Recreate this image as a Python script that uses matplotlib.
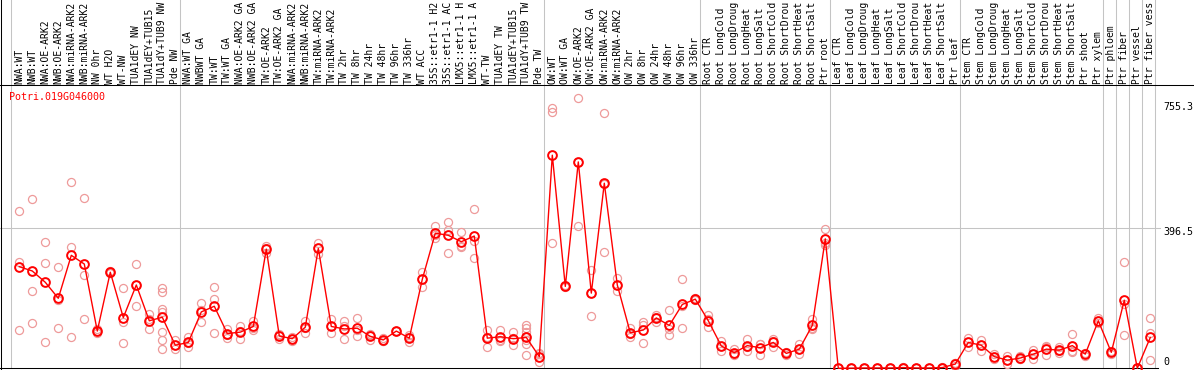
import matplotlib
matplotlib.use("Agg")
import matplotlib.pyplot as plt
import numpy as np

gene = "Potri.019G046000"

# category names as far as the reference shows them (header cuts at 14 chars)
categories = [
    "NWA:WT", "NWB:WT", "NWA:OE-ARK2", "NWB:OE-ARK2", "NWA:miRNA-ARK2", "NWB:miRNA-ARK2",
    "NW 0hr", "WT H2O", "WT-NW", "TUA1dEY NW", "TUA1dEY+TUB15", "TUA1dY+TUB9 NW", "Pde NW",
    "NWA:WT GA", "NWBWT GA", "TW:WT", "TW:WT GA", "NWA:OE-ARK2 GA", "NWB:OE-ARK2 GA",
    "TW:OE-ARK2", "TW:OE-ARK2 GA", "NWA:miRNA-ARK2", "NWB:miRNA-ARK2", "TW:miRNA-ARK2",
    "TW:miRNA-ARK2", "TW 2hr", "TW 8hr", "TW 24hr", "TW 48hr", "TW 96hr", "TW 336hr",
    "WT ACC", "35S::etr1-1 H2", "35S::etr1-1 AC", "LMX5::etr1-1 H", "LMX5::etr1-1 A",
    "WT-TW", "TUA1dEY TW", "TUA1dEY+TUB15", "TUA1dY+TUB9 TW", "Pde TW",
    "OW:WT", "OW:WT GA", "OW:OE-ARK2", "OW:OE-ARK2 GA", "OW:miRNA-ARK2", "OW:miRNA-ARK2",
    "OW 2hr", "OW 8hr", "OW 24hr", "OW 48hr", "OW 96hr", "OW 336hr",
    "Root CTR", "Root LongCold", "Root LongDroug", "Root LongHeat", "Root LongSalt",
    "Root ShortCold", "Root ShortDrou", "Root ShortHeat", "Root ShortSalt", "Ptr root",
    "Leaf CTR", "Leaf LongCold", "Leaf LongDroug", "Leaf LongHeat", "Leaf LongSalt",
    "Leaf ShortCold", "Leaf ShortDrou", "Leaf ShortHeat", "Leaf ShortSalt", "Ptr leaf",
    "Stem CTR", "Stem LongCold", "Stem LongDroug", "Stem LongHeat", "Stem LongSalt",
    "Stem ShortCold", "Stem ShortDrou", "Stem ShortHeat", "Stem ShortSalt", "Ptr shoot",
    "Ptr xylem", "Ptr phloem", "Ptr fiber", "Ptr vessel", "Ptr fiber vess",
]

means = [
    286.6, 274.4, 242.5, 197.4, 318.6, 294, 105, 271, 143, 235, 134, 144, 65,
    73, 159, 175, 98, 102, 118, 336, 91, 83.5, 116, 338, 118, 111, 113, 90, 80, 105, 85,
    251, 381, 375, 357, 373, 85, 89, 83.5, 87, 33,
    601, 231, 582, 212, 522, 235, 100, 108, 142, 121, 180, 195,
    134, 63, 44, 64, 58, 73, 42, 54, 121, 365,
    0, 0.5, 1, 1, 1, 2, 1, 1, 2, 12,
    73, 65, 33, 23, 29, 40, 54, 51, 64, 40,
    134, 45, 192, 0, 87,
]

replicates = [
    [445, 299, 108], [477, 218, 128], [355, 297, 74], [286, 192, 114], [524, 342, 88],
    [479, 262, 138], [110, 105, 100], [274, 270, 269], [226, 131, 71], [294, 235, 175],
    [153, 140, 110], [227, 214, 166, 159, 102, 79, 54], [80, 65, 54],
    [87, 72, 61], [184, 163, 130], [229, 195, 99], [112, 95, 86], [118, 104, 83],
    [133, 114, 108], [346, 339, 324], [97, 95, 82], [88, 84, 78], [133, 115, 99],
    [353, 339, 323], [138, 118, 99], [133, 118, 82], [141, 107, 91], [96, 95, 80],
    [85, 78, 77], [106, 105, 104], [94, 88, 73], [272, 251, 230], [401, 376, 367],
    [413, 390, 324], [384, 343, 344], [449, 360, 310], [108, 88, 60], [109, 81, 77],
    [101, 85, 65], [123, 115, 101, 87, 68, 37, 80], [42, 39, 17],
    [733, 722, 353], [234, 231, 229], [761, 583, 401], [277, 212, 148], [719, 520, 327],
    [254, 234, 217], [114, 98, 89], [131, 122, 71], [150, 144, 131], [164, 110, 93],
    [251, 177, 114], [197, 195, 193],
    [149, 138, 116], [78, 63, 48], [54, 41, 38], [83, 60, 49], [69, 68, 38],
    [82, 77, 61], [46, 43, 38], [69, 54, 40], [138, 115, 110], [392, 353, 349],
    [0, 0, 0], [1, 0, 0], [1, 1, 0], [2, 1, 0], [1, 1, 1], [3, 2, 1], [2, 1, 0],
    [1, 1, 1], [3, 2, 1], [16, 14, 6],
    [85, 74, 61], [80, 65, 50], [40, 32, 25], [35, 22, 11], [36, 26, 25],
    [53, 40, 25], [64, 59, 38], [60, 49, 43], [96, 50, 46], [42, 40, 36],
    [143, 133, 127], [49, 47, 39], [299, 181, 93], [0, 0, 0], [141, 99, 23],
]

ytick_values = [755.3, 396.5, 0]
ytick_labels = ["755.3", "396.5", "0"]
separators_after = [-1, 12, 40, 52, 62, 72, 83, 84, 85, 86, 87]

# ---- pixel layout helpers -------------------------------------------------
W, H = 1194, 370
X_FIRST, X_STEP = 19.3, 13.0          # pixel of first category, spacing
Y_ZERO, Y_GRID = 368.3, 227.7         # pixel of value 0 and of 396.5
VPP = 396.5 / (Y_ZERO - Y_GRID)       # value per pixel


def px_x(p):
    return (p - X_FIRST) / X_STEP


def px_y(p):
    return (Y_ZERO - p) * VPP


fig = plt.figure(figsize=(W / 100, H / 100), dpi=100)
ax = fig.add_axes([0, 0, 1, 1])
ax.set_xlim(px_x(0), px_x(W))
ax.set_ylim(px_y(H), px_y(0))
ax.axis("off")

mono = "DejaVu Sans Mono"
grey = "#c4c4c4"
lw1 = 0.75

# frame lines
ax.plot([px_x(1), px_x(1)], [px_y(0), px_y(H)], color="black", lw=lw1)
ax.plot([px_x(0), px_x(W)], [px_y(85), px_y(85)], color="black", lw=lw1)
ax.plot([px_x(0), px_x(1158)], [0, 0], color="black", lw=lw1, zorder=1)
ax.plot([px_x(0), px_x(1160)], [396.5, 396.5], color=grey, lw=lw1, zorder=0)
for k in separators_after:
    xs = k + 0.37
    ax.plot([xs, xs], [px_y(0), 0], color=grey, lw=lw1, zorder=0)

x = np.arange(len(categories))

# replicate points
for i, reps in enumerate(replicates):
    ax.plot([i] * len(reps), reps, linestyle="none", marker="o", markersize=5.8,
            markerfacecolor="none", markeredgecolor="#ee9a9a", markeredgewidth=0.9,
            zorder=2, clip_on=False)

# mean line
ax.plot(x, means, color="red", lw=1.0, zorder=3, clip_on=False)
ax.plot(x, means, linestyle="none", marker="o", markersize=6.3,
        markerfacecolor="none", markeredgecolor="red", markeredgewidth=1.4,
        zorder=4, clip_on=False)

# header labels
for i, lab in enumerate(categories):
    ax.text(i, px_y(83.5), lab, rotation=90, ha="center", va="bottom",
            fontsize=7.0, family=mono, color="black")

# title
ax.text(px_x(9), px_y(97.5), gene, color="red", fontsize=7.2, family=mono,
        ha="left", va="center")

# y labels
label_px = [107, 232, 362]
for v, lab, p in zip(ytick_values, ytick_labels, label_px):
    ax.text(px_x(1163), px_y(p), lab, fontsize=7.2, family=mono,
            ha="left", va="center", color="black")

fig.savefig("out.png", dpi=100)
